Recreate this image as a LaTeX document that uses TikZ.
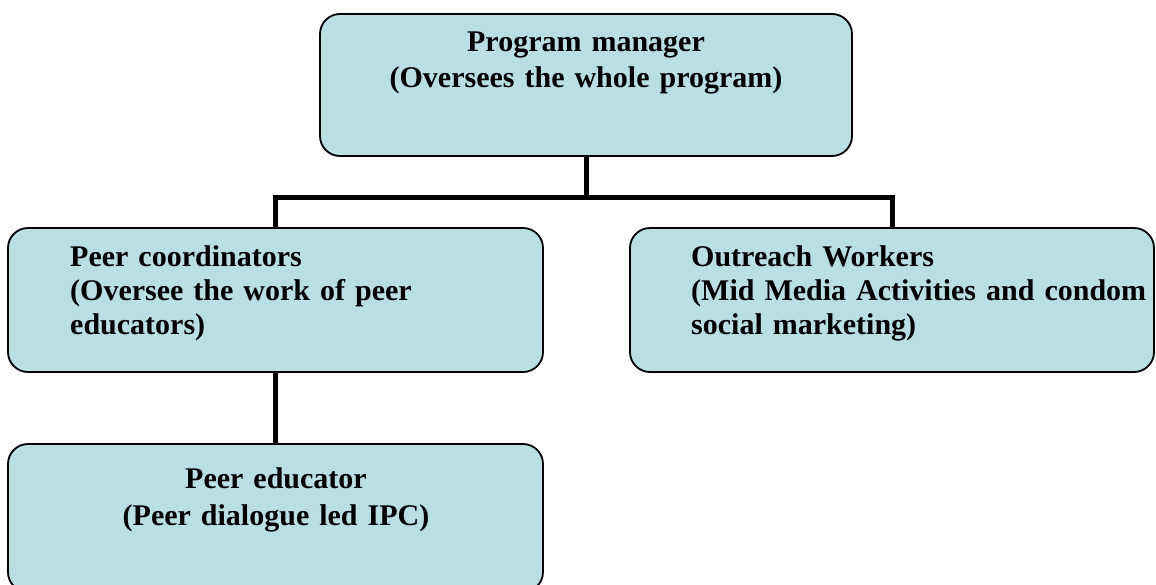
\documentclass[tikz,border=0pt]{standalone}
\usepackage{fontspec}
\setmainfont{Liberation Serif}
\usepackage{tikz}
\definecolor{boxblue}{RGB}{186,223,227}

\tikzset{
	unit/.style={draw=black, line width=1.8pt, fill=boxblue, rounded corners=20pt, inner sep=0pt},
	caption/.style={font=\bfseries\fontsize{30}{34}\selectfont, inner sep=0pt, text width=#1},
	link/.style={line width=5pt}
}

\begin{document}
\begin{tikzpicture}[x=1pt, y=-1pt]
	  \useasboundingbox (0,0) rectangle (1156,584);

	  % Boxes
	  \node [unit, minimum width=532pt, minimum height=142pt] (mgr) at (586,85) {};
	  \node [unit, minimum width=535pt, minimum height=144pt] (coord) at (275.5,300) {};
	  \node [unit, minimum width=524pt, minimum height=144pt] (outreach) at (892,300) {};
	  \node [unit, minimum width=535pt, minimum height=148pt] (educator) at (275.5,518) {};

	  % Links
	  \coordinate (split) at (586,197);
	  \draw [link] (mgr.south) -- (split);
	  \draw [link] (coord.north) |- (split) -| (outreach.north);
	  \draw [link] (coord.south) -- (educator.north);

	  % Box texts
	  \node [caption=500pt, align=center, anchor=base] (mgrtext) at (586,51) {Program manager\\[2pt](Oversees the whole program)};
	  \node [caption=470pt, align=left, anchor=base west] (coordtext) at (70,266) {Peer coordinators\\(Oversee the work of peer\\educators)};
	  \node [caption=470pt, align=left, anchor=base west] (outreachtext) at (691,266) {Outreach Workers\\(Mid Media Activities and condom\\social marketing)};
	  \node [caption=500pt, align=center, anchor=base] (educatortext) at (276,488) {Peer educator\\[3pt](Peer dialogue led IPC)};
	 \end{tikzpicture}
\end{document}
